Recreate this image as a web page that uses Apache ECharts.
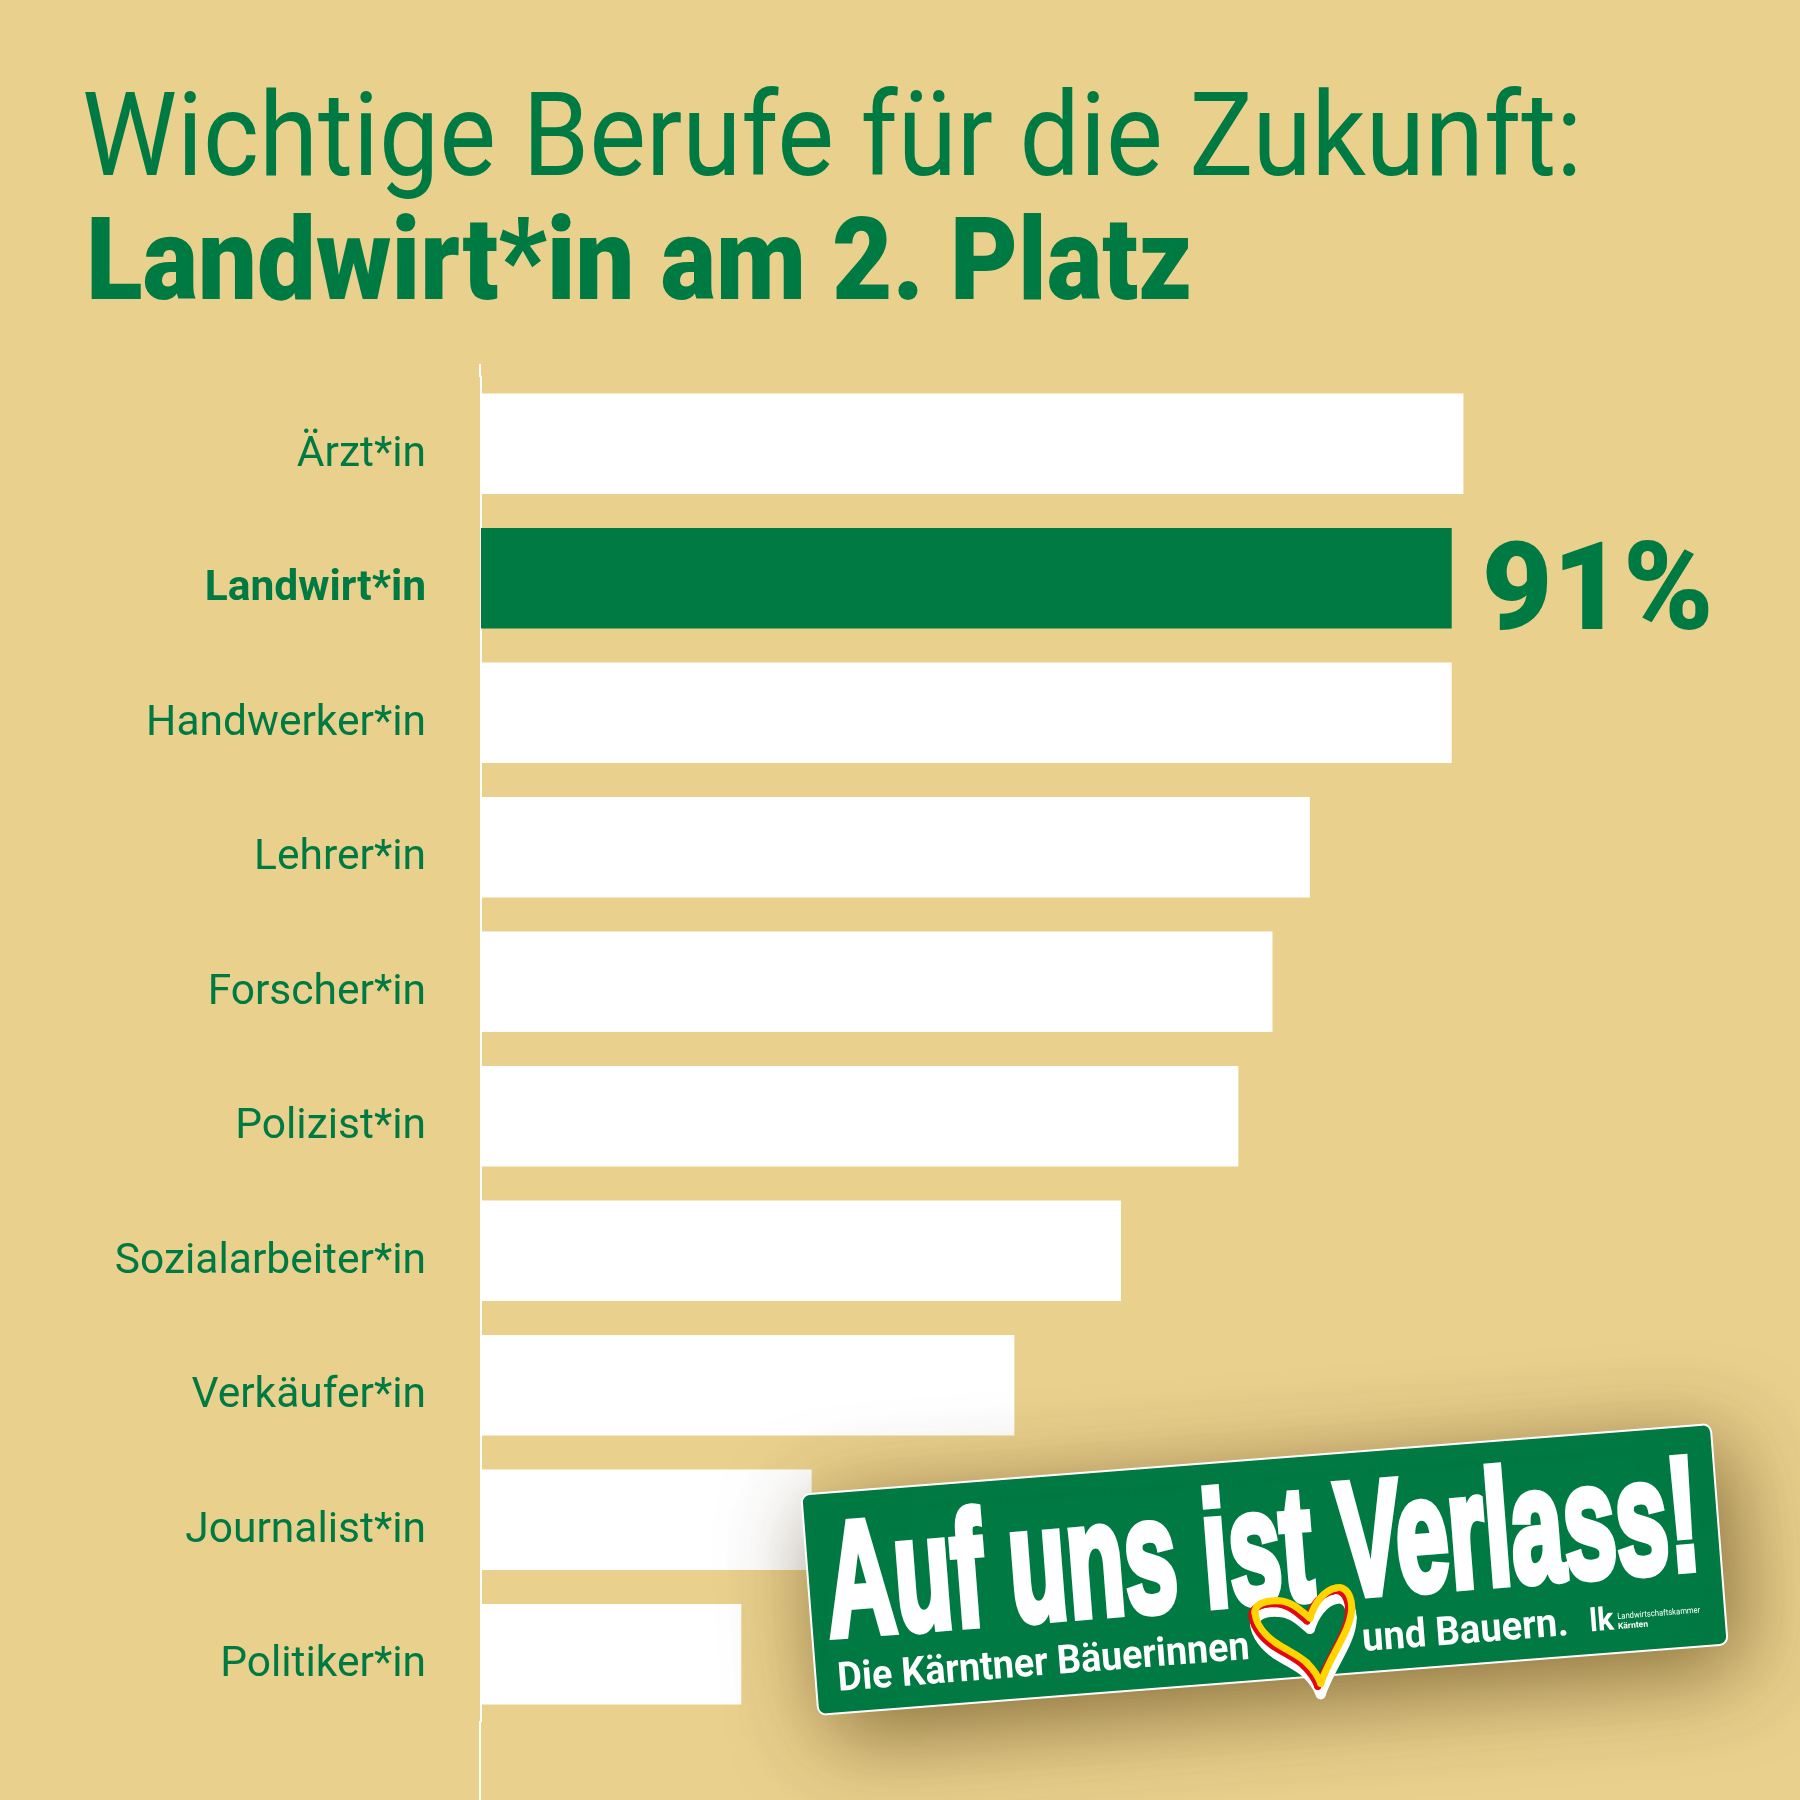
<!DOCTYPE html>
<html><head><meta charset="utf-8">
<style>html,body{margin:0;padding:0;background:#E9D08D}#c{width:1800px;height:1800px}</style>
<script src="https://cdn.jsdelivr.net/npm/echarts@6/dist/echarts.min.js"></script>
</head><body><div id="c"></div>
<script>
const titleLine1 = 'Wichtige Berufe für die Zukunft:';
const titleLine2 = 'Landwirt*in am 2. Platz';
const categories = ['Ärzt*in','Landwirt*in','Handwerker*in','Lehrer*in','Forscher*in','Polizist*in','Sozialarbeiter*in','Verkäufer*in','Journalist*in','Politiker*in'];
const values = [92.1,91,91,77.7,74.2,71,60,50,31,24.4];
const highlighted = 'Landwirt*in';
const highlightedLabel = '91%';
const GREEN = '#007A43', BG = '#E9D08D';
const F = 'Roboto, sans-serif';
const chart = echarts.init(document.getElementById('c'), null, {renderer:'canvas'});
const heartSegments = [
  [1320.7,1683.3, 1330,1655, 1352,1630, 1351.7,1606.7],
  [1351.7,1606.7, 1351,1590, 1342,1586, 1336,1588],
  [1336,1588, 1324,1590, 1314,1604, 1310,1618],
  [1310,1618, 1300,1610, 1292,1601, 1277.6,1600.7],
  [1277.6,1600.7, 1264,1600, 1254,1605, 1255,1613],
  [1255,1613, 1256,1625, 1266,1636, 1276,1643],
  [1276,1643, 1290,1652, 1300,1656, 1307,1663],
  [1307,1663, 1313,1669, 1318,1676, 1320.7,1683.3]
];
function heartStroke(color, w, dx, dy, z){
  return heartSegments.map(s=>({type:'bezierCurve', z:z, x:dx, y:dy,
    shape:{x1:s[0],y1:s[1],cpx1:s[2],cpy1:s[3],cpx2:s[4],cpy2:s[5],x2:s[6],y2:s[7]},
    style:{fill:null, stroke:color, lineWidth:w, lineCap:'round'}}));
}
chart.setOption({
  animation:false,
  backgroundColor:BG,
  grid:{left:481,top:376.5,width:1066.7,height:1345,containLabel:false},
  xAxis:{type:'value',min:0,max:100,show:false},
  yAxis:{type:'category',inverse:true,offset:1,data:categories.map(c=>({value:c,textStyle:c===highlighted?{fontWeight:700}:{}})),
    axisTick:{show:false},
    axisLine:{show:true,lineStyle:{color:'#fff',width:2}},
    axisLabel:{margin:54,fontFamily:F,fontSize:42.5,color:GREEN,lineHeight:23,formatter:v=>'\n'+v}},
  series:[{type:'bar',barWidth:100.5,
    data:values.map((v,i)=>categories[i]===highlighted?{value:v,itemStyle:{color:GREEN},
      label:{show:true,position:'right',distance:30,offset:[0,20],formatter:highlightedLabel,fontFamily:F,fontWeight:900,fontSize:122,color:GREEN}}:{value:v}),
    itemStyle:{color:'#fff'}}],
  graphic:[
    {type:'text',z:10,x:82,y:204,scaleX:0.915,style:{text:titleLine1,font:'400 117px Roboto',fill:GREEN,verticalAlign:'bottom'}},
    {type:'text',z:10,x:86,y:328,scaleX:0.908,style:{text:titleLine2,font:'900 115px Roboto',fill:GREEN,verticalAlign:'bottom'}},
    {type:'rect',z:5,shape:{x:479,y:364,width:2,height:13},style:{fill:'#fff'}},
    {type:'rect',z:5,shape:{x:479,y:1721,width:2,height:79},style:{fill:'#fff'}},
    {type:'group',z:100,x:1264.5,y:1569.5,rotation:4.44*Math.PI/180,children:[
      {type:'rect',z:100,shape:{x:-456,y:-110.5,width:912,height:221,r:8},
        style:{fill:GREEN,stroke:'#fff',lineWidth:2,shadowBlur:90,shadowColor:'rgba(70,45,0,0.6)',shadowOffsetX:14,shadowOffsetY:20}},
      {type:'text',z:101,x:-438,y:69,scaleX:0.582,style:{text:'Auf uns ist Verlass!',font:'bold 162px "Liberation Sans Narrow", sans-serif',fill:'#fff',stroke:'#fff',lineWidth:8,verticalAlign:'bottom'}},
      {type:'text',z:101,x:-434,y:98,scaleX:0.94,style:{text:'Die Kärntner Bäuerinnen',font:'700 40px Roboto',fill:'#fff',verticalAlign:'bottom'}},
      {type:'text',z:101,x:92,y:99,scaleX:0.953,style:{text:'und Bauern.',font:'700 40px Roboto',fill:'#fff',verticalAlign:'bottom'}},
      {type:'text',z:101,x:320,y:95,scaleX:0.95,style:{text:'lk',font:'700 32px Roboto',fill:'#fff',verticalAlign:'bottom'}},
      {type:'text',z:101,x:348,y:79,scaleX:0.9,style:{text:'Landwirtschaftskammer',font:'400 8.5px Roboto',fill:'#fff',verticalAlign:'bottom'}},
      {type:'text',z:101,x:348,y:89,style:{text:'Kärnten',font:'700 8.5px Roboto',fill:'#fff',verticalAlign:'bottom'}}
    ]},
    ...heartStroke('#fff',10,0,11,120),
    ...heartStroke('#E30613',7,-3,3,121),
    ...heartStroke('#FFD500',7,0,0,122)
  ]
});
</script></body></html>
